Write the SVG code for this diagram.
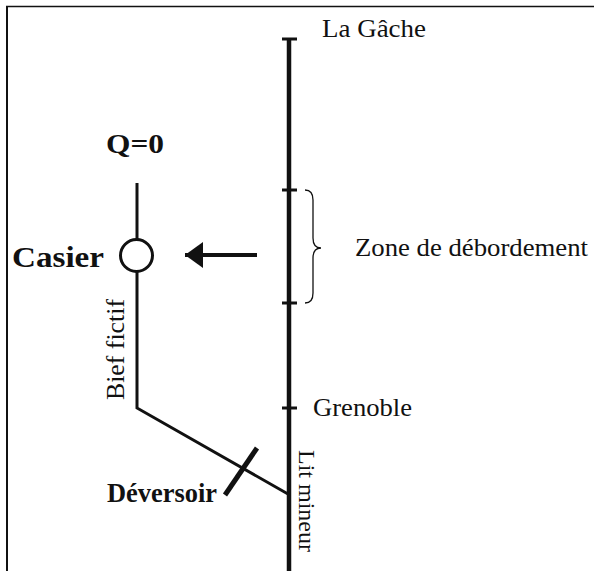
<svg xmlns="http://www.w3.org/2000/svg" width="594" height="571" viewBox="0 0 594 571">
<style>
.t{font-family:"Liberation Serif","Times New Roman",serif;fill:#111;}
.b{font-weight:bold;}
.ln{stroke:#111;fill:none;}
</style>
<defs>
<marker id="ah" markerWidth="18" markerHeight="26" refX="18" refY="13" orient="auto" markerUnits="userSpaceOnUse" viewBox="0 0 18 26"><path d="M0,0 L18,13 L0,26 z" fill="#111"/></marker>
</defs>
<rect width="594" height="571" fill="#fff"/>
<g id="frame">
<line class="ln" x1="6" y1="6.5" x2="594" y2="6.5" stroke-width="1.5"/>
<line class="ln" x1="7" y1="6" x2="7" y2="571" stroke-width="2"/>
</g>
<g id="lit-mineur">
<line class="ln" x1="289" y1="38" x2="289" y2="571" stroke-width="4.5"/>
<line class="ln" x1="282" y1="39" x2="297" y2="39" stroke-width="3"/>
<line class="ln" x1="282" y1="190" x2="297" y2="190" stroke-width="3"/>
<line class="ln" x1="282" y1="303" x2="297" y2="303" stroke-width="3"/>
<line class="ln" x1="282" y1="408" x2="297" y2="408" stroke-width="3"/>
<text class="t" x="322" y="37" font-size="26" textLength="104" lengthAdjust="spacingAndGlyphs">La Gâche</text>
<text class="t" x="313" y="416" font-size="26" textLength="99" lengthAdjust="spacingAndGlyphs">Grenoble</text>
<text class="t" transform="translate(299,450) rotate(90)" font-size="23" textLength="102" lengthAdjust="spacingAndGlyphs">Lit mineur</text>
</g>
<g id="zone">
<path class="ln" stroke-width="1.3" d="M305,190 Q313,190 313,200 L313,238 Q313,248 321,248 Q313,248 313,258 L313,293 Q313,303 305,303"/>
<text class="t" x="355" y="256" font-size="26" textLength="233" lengthAdjust="spacingAndGlyphs">Zone de débordement</text>
</g>
<g id="casier">
<circle cx="136.5" cy="255.5" r="16" fill="#fff" stroke="#111" stroke-width="3"/>
<text class="t b" x="12" y="267" font-size="30" textLength="92" lengthAdjust="spacingAndGlyphs">Casier</text>
</g>
<g id="q0">
<text class="t b" x="106" y="153" font-size="28" textLength="58" lengthAdjust="spacingAndGlyphs">Q=0</text>
</g>
<g id="deversoir">
<line class="ln" x1="225" y1="495" x2="257" y2="448" stroke-width="5"/>
<text class="t b" x="107" y="502" font-size="26.5" textLength="110" lengthAdjust="spacingAndGlyphs">Déversoir</text>
</g>
<g id="bief">
<text class="t" transform="translate(124,400) rotate(-90)" font-size="25" textLength="101" lengthAdjust="spacingAndGlyphs">Bief fictif</text>
</g>
<g id="connectors">
<line class="ln" x1="137" y1="183" x2="137" y2="239.5" stroke-width="3"/>
<polyline class="ln" points="137,271.5 137,408 288,494" stroke-width="3"/>
<line class="ln" x1="257" y1="255" x2="185" y2="255" stroke-width="4" marker-end="url(#ah)"/>
</g>
</svg>
